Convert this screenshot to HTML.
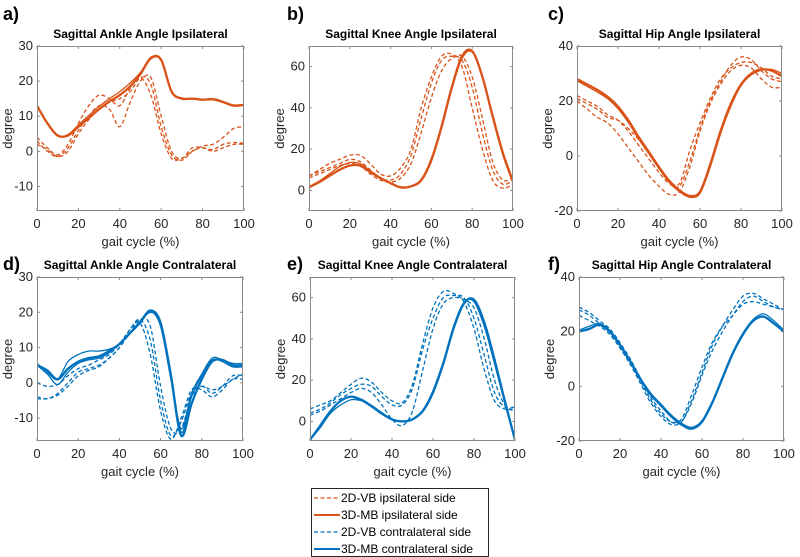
<!DOCTYPE html>
<html><head><meta charset="utf-8"><style>
html,body{margin:0;padding:0;background:#fff;}
svg{display:block;font-family:"Liberation Sans",Arial,sans-serif;}
</style></head><body>
<svg id="chart" width="800" height="557" viewBox="0 0 800 557" xmlns="http://www.w3.org/2000/svg">
<g id="panels"></g>
<g>
<rect x="311.5" y="488.5" width="177" height="68" fill="#fff" stroke="#262626" stroke-width="1"/>
<line x1="314" y1="498" x2="340" y2="498" stroke="#D95319" stroke-width="1.3" stroke-dasharray="4,2.5"/>
<text x="341" y="502" font-size="12" fill="#000">2D-VB ipsilateral side</text>
<line x1="314" y1="515" x2="340" y2="515" stroke="#D95319" stroke-width="2"/>
<text x="341" y="519" font-size="12" fill="#000">3D-MB ipsilateral side</text>
<line x1="314" y1="532" x2="340" y2="532" stroke="#0072BD" stroke-width="1.3" stroke-dasharray="4,2.5"/>
<text x="341" y="536" font-size="12" fill="#000">2D-VB contralateral side</text>
<line x1="314" y1="549" x2="340" y2="549" stroke="#0072BD" stroke-width="2"/>
<text x="341" y="553" font-size="12" fill="#000">3D-MB contralateral side</text>
</g>
</svg>
<script>
const xs=[0,5,10,15,20,25,30,35,40,45,50,55,60,65,70,75,80,85,90,95,100];
const xTicks=[0,20,40,60,80,100];
// Panel a
const aSolid1=[13,8,4.5,4.5,7,9.5,12,14.2,16,18.5,22,26.5,26,17,15,15,14.7,14.8,14,13,13.2];
const aSolid2=[12.8,7.8,4.3,4.8,7.5,10.2,12.8,15,17,19.5,22.5,26.8,26.2,17.2,15.2,15.1,14.8,15,14.2,13.2,13.4];
const aDash1=[4,1,-1,2,8,13,16,15,13,18,21,16,5,-2,-2,0,1.5,2,4,6.5,7];
const aDash2=[3,0,-1.5,1,6,10,13,12,7,14,20,21,10,0,-2,1,1,0.5,2,2.5,2.3];
const aDash3=[2,0.5,-1.5,0,5,9,12,14,15,17,21,19,7,-1,-2.5,0,1,0,1,2,2];
// Panel b
const bSolid1=[1.5,4,7,10,12,12,9,6,3.5,1.5,2,5,15,31,50,65,67.5,55,36,18,4];
const bSolid2=[1.8,4.5,8,11.5,13.5,13,9.5,6,3.2,1.2,1.8,4.5,14,30,49,64,67,55,37,19,5];
const bDash1=[7,10,13,15,17,17,13,8,7,11,20,40,55,65,66,60,40,20,5,1,3];
const bDash2=[7,9,11,13,15,14,10,6,5,8,17,35,52,63,65,63,50,28,10,3,5];
const bDash3=[6,8,10,12,13,12,8,5,4,6,13,28,45,58,64,65,55,35,14,5,6];
// Panel c
const cSolid1=[28,26,24,21.5,18,13,7,1.5,-4,-9,-12.5,-14.5,-13,-3,9,19,26,30,31.5,31,29];
const cSolid2=[27.3,25.3,23.2,20.8,17.2,12.2,6.3,0.8,-4.6,-9.6,-13,-15,-13.6,-4,8,18,25.5,29.5,31.2,31.5,30];
const cDash1=[22,20,18,15,13,9,4,-1,-6,-10,-11,-2,10,20,27,33,36,35,31,28,27];
const cDash2=[21,19,17,14,13,10,6,1,-4,-9,-10,2,12,21,28,32,34,34,32,29,28];
const cDash3=[20,17,14,12,8,3,-2,-7,-11,-14,-13,-4,9,19,26,31,33,32,28,25,25];
// Panel d
const dSolid1=[5,3.5,1,4,6,7,7.5,9,11,14,17,20.5,17,2,-15,-6,1,6,6.5,5,5];
const dSolid2=[5,2.5,-0.5,3,5.5,6.5,7,8.5,11,14,17,20,17,3,-14,-4,2,6.5,6,4.5,4.5];
const dSolid3=[5.5,3,1,6,8,9,9,9.5,11,14,17.5,20.3,16,1,-13,-3,2.5,7,6.5,5.5,5.5];
const dDash1=[0,-1,-0.5,2,4,5,6.5,8,11,15,18,12,-5,-15,-11,-3,-1,-2,-1,1,2.5];
const dDash2=[-4,-4.5,-3,0,3,4,5,7,10,15,17,8,-8,-16,-10,-2,-2,-4,-2,1,1];
const dDash3=[-4.5,-4.5,-3.5,-1,2,3.5,4.5,7,10,14,18,16,-1,-13,-13,-4,-1,-3,-1,2,2];
// Panel e
const eSolid1=[-9,-2,5,10,12,10.5,7.5,4,1,0,1,5,14,28,45,57,59,48,30,10,-9];
const eSolid2=[-9,-3,4,8,10.5,10,7,3.5,0.8,0,1.2,5.5,15,29,46,57.5,58,46,28,9,-9];
const eDash1=[6,8,10,14,18,21,19,14,10,9,18,38,55,63,62,58,45,25,10,6,6];
const eDash2=[4,6,9,13,16,18,17,12,8,8,16,35,50,60,61,60,50,32,14,7,7];
const eDash3=[3,5,8,11,14,16,14,8,1,-2,5,25,45,57,60,59,55,40,20,8,5];
// Panel f
const fSolid1=[20,21,22.5,20,15,9,2.5,-3,-7,-11,-14,-15.5,-13,-6,3,12,19,24,25.5,23,20];
const fSolid2=[20.5,22,23,20.5,15.5,9.5,3,-2.5,-6.5,-10.5,-13.5,-15,-12.5,-5.5,3.5,12.5,19.5,24.5,26.5,24,20.5];
const fDash1=[29,27,24,21,16,10,3,-4,-9,-13,-13,-5,5,15,22,28,33,34,32,30,28];
const fDash2=[28,26,23,20,15,9,2,-5,-10,-13,-12,-3,7,16,22,26,30,31,30,29,28];
const fDash3=[26,24,22,19,14,8,1,-6,-11,-14,-13,-6,4,13,20,26,31,33,31,29,28];

const ORANGE="#D95319", BLUE="#0072BD";
const panels=[
 {id:"a",label:"a)",title:"Sagittal Ankle Angle Ipsilateral",x0:37,x1:244,y0:46,y1:211,ymin:-17,ymax:30,yt:[-10,0,10,20,30],c:ORANGE,solid:[aSolid1,aSolid2],dash:[aDash1,aDash2,aDash3],lx:3,ly:20},
 {id:"b",label:"b)",title:"Sagittal Knee Angle Ipsilateral",x0:309,x1:513,y0:46,y1:211,ymin:-10,ymax:70,yt:[0,20,40,60],c:ORANGE,solid:[bSolid1,bSolid2],dash:[bDash1,bDash2,bDash3],lx:287,ly:20},
 {id:"c",label:"c)",title:"Sagittal Hip Angle Ipsilateral",x0:577,x1:782,y0:46,y1:211,ymin:-20,ymax:40,yt:[-20,0,20,40],c:ORANGE,solid:[cSolid1,cSolid2],dash:[cDash1,cDash2,cDash3],lx:548,ly:20},
 {id:"d",label:"d)",title:"Sagittal Ankle Angle Contralateral",x0:37,x1:243,y0:277,y1:441,ymin:-16.5,ymax:30,yt:[-10,0,10,20,30],c:BLUE,solid:[dSolid1,dSolid2,dSolid3],dash:[dDash1,dDash2,dDash3],lx:3,ly:270},
 {id:"e",label:"e)",title:"Sagittal Knee Angle Contralateral",x0:310,x1:515,y0:277,y1:441,ymin:-9.5,ymax:70,yt:[0,20,40,60],c:BLUE,solid:[eSolid1,eSolid2],dash:[eDash1,eDash2,eDash3],lx:287,ly:270},
 {id:"f",label:"f)",title:"Sagittal Hip Angle Contralateral",x0:579,x1:784,y0:277,y1:441,ymin:-20,ymax:40,yt:[-20,0,20,40],c:BLUE,solid:[fSolid1,fSolid2],dash:[fDash1,fDash2,fDash3],lx:548,ly:270}
];
const NS="http://www.w3.org/2000/svg";
function mk(tag,attrs,parent){const e=document.createElementNS(NS,tag);for(const k in attrs)e.setAttribute(k,attrs[k]);parent.appendChild(e);return e;}
function smooth(pts){let d="M"+pts[0][0].toFixed(1)+","+pts[0][1].toFixed(1);
 for(let i=0;i<pts.length-1;i++){const p0=pts[Math.max(0,i-1)],p1=pts[i],p2=pts[i+1],p3=pts[Math.min(pts.length-1,i+2)];
  const c1=[p1[0]+(p2[0]-p0[0])/6,p1[1]+(p2[1]-p0[1])/6],c2=[p2[0]-(p3[0]-p1[0])/6,p2[1]-(p3[1]-p1[1])/6];
  d+="C"+c1[0].toFixed(1)+","+c1[1].toFixed(1)+" "+c2[0].toFixed(1)+","+c2[1].toFixed(1)+" "+p2[0].toFixed(1)+","+p2[1].toFixed(1);}
 return d;}
const root=document.getElementById("panels");
panels.forEach(p=>{
 const g=mk("g",{},root);
 
 
 const sx=v=>p.x0+(v-0)/(100)*(p.x1-p.x0);
 const sy=v=>p.y1-(v-p.ymin)/(p.ymax-p.ymin)*(p.y1-p.y0);
 const lab=mk("text",{x:p.lx,y:p.ly,"font-size":"18","font-weight":"bold",fill:"#000"},g);lab.textContent=p.label;
 
 
 const t=mk("text",{x:(p.x0+p.x1)/2,y:p.y0-8,"font-size":"12","font-weight":"bold","text-anchor":"middle",fill:"#000"},g);t.textContent=p.title;
 
 
 const cid="clip"+p.id;
 const cp=mk("clipPath",{id:cid},g);mk("rect",{x:p.x0,y:p.y0,width:p.x1-p.x0,height:p.y1-p.y0},cp);
 const lg=mk("g",{"clip-path":"url(#"+cid+")"},g);
 p.dash.forEach(arr=>{const path=mk("path",{d:smooth(xs.map((x,i)=>[sx(x),sy(arr[i])])),fill:"none",stroke:p.c,"stroke-width":"1.3","stroke-dasharray":"4,2.5"},lg);
  
  });
 p.solid.forEach((arr,k)=>{const path=mk("path",{d:smooth(xs.map((x,i)=>[sx(x),sy(arr[i])])),fill:"none",stroke:p.c,"stroke-width":k==0?"2.3":"1.3"},lg);
  
  });
 const box=mk("rect",{x:p.x0+0.5,y:p.y0+0.5,width:p.x1-p.x0-1,height:p.y1-p.y0-1,fill:"none",stroke:"#8a8a8a","stroke-width":"1"},g);
 
 
 xTicks.forEach(v=>{const x=sx(v);
  mk("line",{x1:x,y1:p.y1,x2:x,y2:p.y1-3,stroke:"#8a8a8a"},g);mk("line",{x1:x,y1:p.y0,x2:x,y2:p.y0+3,stroke:"#8a8a8a"},g);
  const tx=mk("text",{x:x,y:p.y1+17,"font-size":"13","text-anchor":"middle",fill:"#262626"},g);tx.textContent=v;
  
  });
 p.yt.forEach(v=>{const y=sy(v);
  mk("line",{x1:p.x0,y1:y,x2:p.x0+3,y2:y,stroke:"#8a8a8a"},g);mk("line",{x1:p.x1,y1:y,x2:p.x1-3,y2:y,stroke:"#8a8a8a"},g);
  const ty=mk("text",{x:p.x0-4,y:y+4,"font-size":"13","text-anchor":"end",fill:"#262626"},g);ty.textContent=v;
  
  });
 const xl=mk("text",{x:(p.x0+p.x1)/2,y:p.y1+35,"font-size":"13","text-anchor":"middle",fill:"#262626"},g);xl.textContent="gait cycle (%)";
 
 
 const yc=(p.y0+p.y1)/2, yx=p.x0-25;
 const yl=mk("text",{x:yx,y:yc,"font-size":"13","text-anchor":"middle",fill:"#262626",transform:"rotate(-90 "+yx+" "+yc+")"},g);yl.textContent="degree";
 
 
});
</script>
</body></html>
